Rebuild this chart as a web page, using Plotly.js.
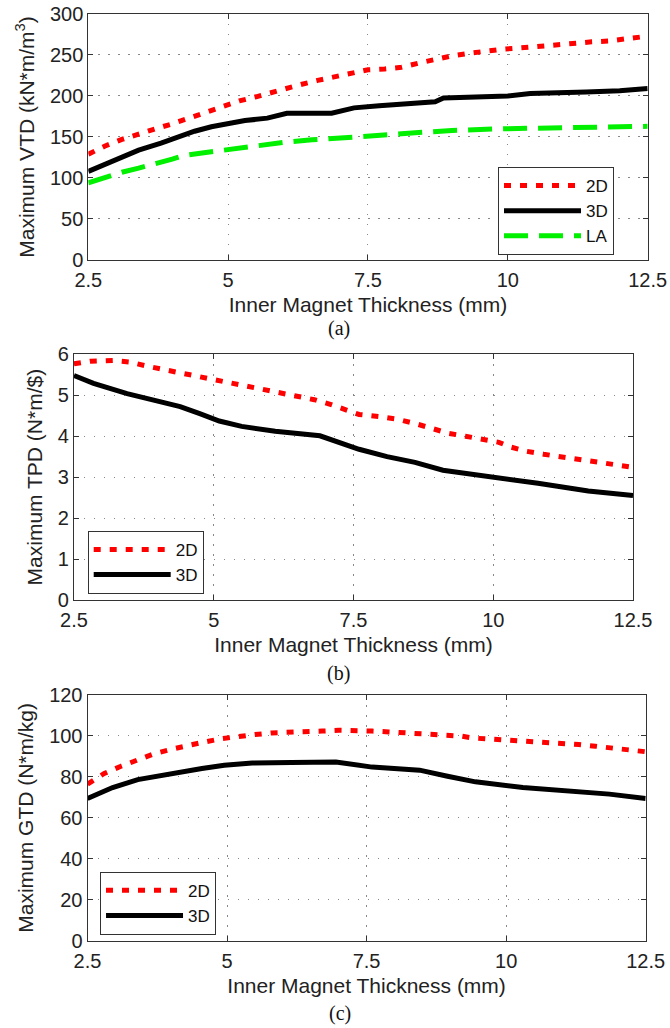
<!DOCTYPE html>
<html>
<head>
<meta charset="utf-8">
<script src="https://cdn.plot.ly/plotly-3.0.1.min.js"></script>
<style>html,body{margin:0;padding:0;background:#fff;}#chart{width:670px;height:1028px;}</style>
</head>
<body>
<div id="chart"></div>
<script>
// ---------- data ----------
const xTicks = [2.5, 5, 7.5, 10, 12.5];
const xTickText = ['2.5', '5', '7.5', '10', '12.5'];

// (a) Maximum VTD (kN*m/m^3)
const a2D_x = [2.5,2.8,3.1,3.4,3.7,4.0,4.3,4.6,4.9,5.2,5.5,5.7,6.0,6.3,6.6,6.9,7.2,7.5,7.8,8.1,8.4,8.7,9.0,9.3,9.6,9.9,10.3,10.6,10.9,11.2,11.5,11.8,12.1,12.5];
const a2D_y = [129,139,147,154,160,166,173,180,187,194,199,203,209,214,219,223,228,232,233,235,240,245,249,252,255,257,259,261,263,264,266,267,269,273];
const a3D_x = [2.5,3.0,3.4,3.8,4.1,4.4,4.7,5.0,5.3,5.7,6.05,6.85,7.25,7.7,8.1,8.7,8.85,9.3,10.0,10.4,10.9,11.4,12.0,12.5];
const a3D_y = [108,122,134,142.5,150.5,157,162.5,167,170,173,179,179,185.5,188,190,193,197.5,198,200,203,203.5,205,206.5,209];
const aLA_x = [2.5,2.8,3.1,3.4,3.7,4.0,4.2,4.55,4.85,5.15,5.55,6.0,6.5,7.1,7.6,8.1,9.0,9.9,11.1,12.5];
const aLA_y = [94,101,107,112,117,123,127.5,130.5,133.5,137,140,143.5,146.5,150,151.5,154,158,160,161,163];

// (b) Maximum TPD (N*m/$)
const b2D_x = [2.5,2.8,3.2,3.5,3.8,4.1,4.4,4.7,5.0,5.3,5.6,5.9,6.2,6.5,6.8,7.1,7.4,7.6,8.0,8.3,8.6,8.9,9.2,9.5,9.8,10.1,10.3,10.6,10.9,11.2,11.5,11.9,12.2,12.5];
const b2D_y = [5.77,5.83,5.85,5.81,5.71,5.63,5.55,5.47,5.39,5.31,5.22,5.12,5.04,4.98,4.89,4.77,4.63,4.53,4.47,4.41,4.31,4.19,4.07,4.0,3.93,3.85,3.74,3.63,3.56,3.5,3.43,3.37,3.32,3.24];
const b3D_x = [2.5,2.85,3.45,4.05,4.4,4.75,5.1,5.5,6.1,6.9,7.3,7.6,8.1,8.6,9.1,10.0,10.8,11.7,12.5];
const b3D_y = [5.48,5.29,5.04,4.82,4.72,4.55,4.37,4.24,4.12,4.01,3.82,3.68,3.5,3.36,3.17,3.01,2.85,2.66,2.55];

// (c) Maximum GTD (N*m/kg)
const c2D_x = [2.5,2.8,3.1,3.4,3.7,4.0,4.3,4.6,4.9,5.2,5.5,5.8,6.1,6.4,6.7,7.0,7.3,7.6,7.9,8.2,8.5,8.9,9.2,9.4,9.8,10.1,10.4,10.7,11.0,11.3,11.6,11.9,12.2,12.5];
const c2D_y = [76.5,81.7,85.2,88.6,91.4,93.5,95.5,97.1,98.7,99.9,100.7,101.5,101.6,102,102.4,102.8,102.8,102.4,102,101.6,101.2,100.7,99.9,99.0,98.4,97.9,97.6,97.1,96.6,95.8,95,94.1,93.4,92.3];
const c3D_x = [2.5,2.95,3.4,4.05,4.55,4.95,5.45,6.15,6.95,7.6,8.45,8.95,9.45,10.3,11.15,11.85,12.5];
const c3D_y = [69.5,74.8,78.7,82,84.1,85.7,86.8,87,87.3,84.8,83.3,80.3,77.6,74.8,73.2,71.6,69.5];

const seriesNames = ['2D', '3D', 'LA'];
const captions = ['(a)', '(b)', '(c)'];
const xTitle = 'Inner Magnet Thickness (mm)';
const yTitles = ['Maximum VTD (kN*m/m<sup>3</sup>)', 'Maximum TPD (N*m/$)', 'Maximum GTD (N*m/kg)'];

// ---------- styles ----------
const FONT = 'Liberation Sans, Arial, sans-serif';
const red = {color: '#ff0000', width: 5, dash: '7px,9px'};
const blk = {color: '#000000', width: 5, dash: 'solid'};
const grn = {color: '#00f000', width: 5, dash: '24px,11px'};

function tr(x, y, name, line, xa, ya, leg) {
  return {type: 'scatter', mode: 'lines', x: x, y: y, name: name, line: line,
          xaxis: xa, yaxis: ya, legend: leg, hoverinfo: 'skip'};
}

const data = [
  tr(a2D_x, a2D_y, seriesNames[0], red, 'x', 'y', 'legend'),
  tr(a3D_x, a3D_y, seriesNames[1], blk, 'x', 'y', 'legend'),
  tr(aLA_x, aLA_y, seriesNames[2], grn, 'x', 'y', 'legend'),
  tr(b2D_x, b2D_y, seriesNames[0], red, 'x2', 'y2', 'legend2'),
  tr(b3D_x, b3D_y, seriesNames[1], blk, 'x2', 'y2', 'legend2'),
  tr(c2D_x, c2D_y, seriesNames[0], red, 'x3', 'y3', 'legend3'),
  tr(c3D_x, c3D_y, seriesNames[1], blk, 'x3', 'y3', 'legend3')
];

function xa(domain, anchor) {
  return {domain: domain, anchor: anchor, range: [2.5, 12.5], tickvals: xTicks, ticktext: xTickText,
    showline: true, mirror: 'ticks', linecolor: '#333', linewidth: 1,
    ticks: 'inside', ticklen: 5, tickcolor: '#333', ticklabelstandoff: 2,
    showgrid: true, gridcolor: '#888', gridwidth: 1, griddash: '1.5px,8.5px', zeroline: false,
    tickfont: {family: FONT, size: 20, color: '#222'},
    title: {text: xTitle, font: {family: FONT, size: 21, color: '#222'}, standoff: 7}};
}
function ya(domain, anchor, range, dtick, title) {
  return {domain: domain, anchor: anchor, range: range, dtick: dtick, tick0: 0,
    showline: true, mirror: 'ticks', linecolor: '#333', linewidth: 1,
    ticks: 'inside', ticklen: 5, tickcolor: '#333',
    showgrid: true, gridcolor: '#888', gridwidth: 1, griddash: '1.5px,8.5px', zeroline: false,
    tickfont: {family: FONT, size: 20, color: '#222'},
    title: {text: title, font: {family: FONT, size: 21, color: '#222'}, standoff: 9}};
}
function leg(x, y) {
  return {x: x, y: y, xanchor: 'left', yanchor: 'top', xref: 'paper', yref: 'paper',
    bgcolor: '#ffffff', bordercolor: '#333', borderwidth: 1,
    font: {family: FONT, size: 17, color: '#111'}, itemwidth: 77, traceorder: 'normal',
    entrywidth: 125, entrywidthmode: 'pixels'};
}

const layout = {
  width: 670, height: 1028,
  margin: {l: 0, r: 0, t: 0, b: 0},
  paper_bgcolor: '#fff', plot_bgcolor: '#fff',
  showlegend: true,
  xaxis:  xa([0.1318, 0.9667], 'y'),
  yaxis:  ya([0.7471, 0.9864], 'x', [0, 300], 50, yTitles[0]),
  xaxis2: xa([0.1104, 0.9448], 'y2'),
  yaxis2: ya([0.4163, 0.6554], 'x2', [0, 6], 1, yTitles[1]),
  xaxis3: xa([0.1306, 0.9637], 'y3'),
  yaxis3: ya([0.0849, 0.3239], 'x3', [0, 120], 20, yTitles[2]),
  legend:  leg(0.7433, 0.8375),
  legend2: leg(0.1309, 0.4835),
  legend3: leg(0.1493, 0.1520),
  annotations: [
    {text: captions[0], x: 0.506, y: (1028 - 328) / 1028},
    {text: captions[1], x: 0.505, y: (1028 - 673) / 1028},
    {text: captions[2], x: 0.507, y: (1028 - 1013) / 1028}
  ].map(a => Object.assign(a, {xref: 'paper', yref: 'paper', xanchor: 'center', yanchor: 'middle',
      showarrow: false, font: {family: 'Liberation Serif, Times New Roman, serif', size: 20, color: '#111'}}))
};

Plotly.newPlot('chart', data, layout, {staticPlot: true, displayModeBar: false});
</script>
</body>
</html>
